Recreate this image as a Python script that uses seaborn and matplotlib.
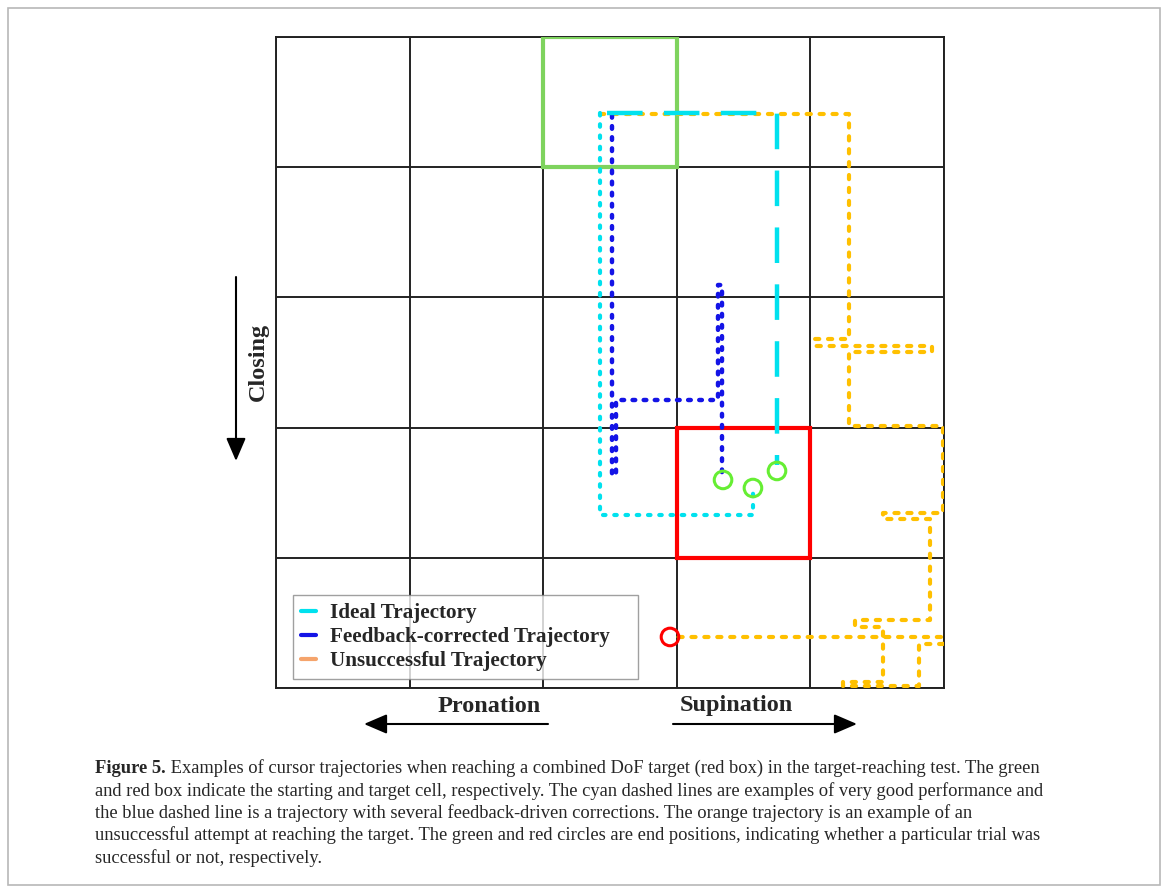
import matplotlib
matplotlib.use("Agg")
import matplotlib.pyplot as plt
from matplotlib.lines import Line2D
from matplotlib.patches import Rectangle, FancyArrowPatch
import seaborn as sns
import pandas as pd

# ---------------- data (grid-cell units; x to the right, y downward from top) ----------------
ideal_dotted_x = [2.425, 2.425, 3.570, 3.570]
ideal_dotted_y = [0.584, 3.671, 3.671, 3.464]

ideal_dashed_x = [2.478, 3.750, 3.750]
ideal_dashed_y = [0.584, 0.584, 3.287]

feedback_x = [2.515, 2.515, 2.545, 2.545, 3.308, 3.308, 3.338, 3.338]
feedback_y = [0.600, 3.364, 3.364, 2.788, 2.788, 1.905, 1.905, 3.387]

unsucc_x = [2.425, 4.289, 4.289, 4.034, 4.034, 4.910, 4.910, 4.289, 4.289, 4.993, 4.993,
            4.543, 4.543, 4.895, 4.895, 4.334, 4.334, 4.543, 4.543, 4.244, 4.244, 4.813,
            4.813, 4.993, 4.993, 2.949]
unsucc_y = [0.591, 0.591, 2.320, 2.320, 2.373, 2.373, 2.419, 2.419, 2.988, 2.988, 3.656,
            3.656, 3.702, 3.702, 4.478, 4.478, 4.531, 4.531, 4.954, 4.954, 4.985, 4.985,
            4.662, 4.662, 4.608, 4.608]

success_end_x = [3.346, 3.570, 3.750]
success_end_y = [3.402, 3.464, 3.333]
fail_end_x = [2.949]
fail_end_y = [4.608]

start_cell = (2, 0)   # column, row (from top)
target_cell = (3, 3)
n_cells = 5

legend_labels = ["Ideal Trajectory", "Feedback-corrected Trajectory", "Unsuccessful Trajectory"]
xlabel_left, xlabel_right, ylabel = "Pronation", "Supination", "Closing"
caption_bold = "Figure 5."
caption_lines = [
    " Examples of cursor trajectories when reaching a combined DoF target (red box) in the target-reaching test. The green",
    "and red box indicate the starting and target cell, respectively. The cyan dashed lines are examples of very good performance and",
    "the blue dashed line is a trajectory with several feedback-driven corrections. The orange trajectory is an example of an",
    "unsuccessful attempt at reaching the target. The green and red circles are end positions, indicating whether a particular trial was",
    "successful or not, respectively.",
]

# ---------------- style ----------------
CYAN = "#00e1ee"
BLUE = "#1414e6"
ORANGE = "#ffc000"
LEG_ORANGE = "#f5a46c"
GREEN_BOX = "#7ed35e"
GREEN_C = "#66ee33"
RED = "#ff0000"
GRID = "#222222"

sns.set_theme(style="white")
plt.rcParams["font.family"] = ["Liberation Serif", "DejaVu Serif"]

W, H = 1169, 894
fig = plt.figure(figsize=(W / 100, H / 100), dpi=100)

def fx(px):
    return px / W

def fy(py):
    return 1 - py / H

ax_l, ax_r, ax_t, ax_b = 276, 944, 37, 688
ax = fig.add_axes([fx(ax_l), fy(ax_b), fx(ax_r) - fx(ax_l), fy(ax_t) - fy(ax_b)])
ax.set_xlim(0, n_cells)
ax.set_ylim(n_cells, 0)
ax.set_xticks(range(n_cells + 1))
ax.set_yticks(range(n_cells + 1))
ax.tick_params(length=0, labelbottom=False, labelleft=False)
ax.grid(True, color=GRID, lw=1.4)
for s in ax.spines.values():
    s.set_color(GRID)
    s.set_linewidth(1.4)

# boxes
ax.add_patch(Rectangle(start_cell, 1, 1, fill=False, ec=GREEN_BOX, lw=3.0, zorder=3))
ax.add_patch(Rectangle(target_cell, 1, 1, fill=False, ec=RED, lw=3.0, zorder=3))

def traj(x, y, color, ls, lw=3.0, cap="round"):
    df = pd.DataFrame({"x": x, "y": y})
    sns.lineplot(data=df, x="x", y="y", sort=False, estimator=None, ax=ax, color=color,
                 lw=lw, linestyle=ls, dash_capstyle=cap, zorder=4, legend=False)

traj(unsucc_x, unsucc_y, ORANGE, (0, (1.0, 2.1)))
traj(ideal_dotted_x, ideal_dotted_y, CYAN, (0, (0.6, 2.1)))
traj(feedback_x, feedback_y, BLUE, (0, (0.6, 1.9)), lw=3.2)
traj(ideal_dashed_x, ideal_dashed_y, CYAN, (0, (8.0, 4.8)), lw=3.2, cap="butt")

# end markers
sns.scatterplot(x=success_end_x, y=success_end_y, ax=ax, s=160, facecolor="none",
                edgecolor=GREEN_C, linewidth=2.2, zorder=6, legend=False)
sns.scatterplot(x=fail_end_x, y=fail_end_y, ax=ax, s=160, facecolor="none",
                edgecolor=RED, linewidth=2.2, zorder=6, legend=False)
ax.set_xlabel("")
ax.set_ylabel("")

# legend (box spans the reference extent)
ax_w, ax_h = ax_r - ax_l, ax_b - ax_t
lx0, lx1, ly0, ly1 = 293, 638, 596, 679
handles = [Line2D([], [], color=c, lw=3) for c in (CYAN, BLUE, LEG_ORANGE)]
leg = ax.legend(handles, legend_labels, loc="lower left", mode="expand",
                bbox_to_anchor=((lx0 - ax_l) / ax_w, (ax_b - ly1) / ax_h,
                                (lx1 - lx0) / ax_w, (ly1 - ly0) / ax_h),
                prop={"family": ["Liberation Serif"], "weight": "bold", "size": 15.2},
                handlelength=0.7, handletextpad=0.65, borderpad=0.38, labelspacing=0.18,
                fancybox=False, frameon=True, borderaxespad=0)
leg.get_frame().set_edgecolor("#888888")
leg.get_frame().set_linewidth(1.0)
leg.set_zorder(10)

# axis labels & arrows
lab = dict(family=["Liberation Serif"], weight="bold", fontsize=17.5)
fig.text(fx(489), fy(706), xlabel_left, ha="center", va="center", **lab)
fig.text(fx(736), fy(706), xlabel_right, ha="center", va="center", **lab)
fig.text(fx(258), fy(362), ylabel, ha="center", va="center", rotation=90, **lab)

arrow = dict(arrowstyle="-|>,head_length=1.4,head_width=0.6", color="black", lw=1.5,
             shrinkA=0, shrinkB=0, mutation_scale=10, transform=fig.transFigure)
fig.add_artist(FancyArrowPatch((fx(548), fy(724)), (fx(364), fy(724)), **arrow))
fig.add_artist(FancyArrowPatch((fx(673), fy(724)), (fx(857), fy(724)), **arrow))
fig.add_artist(FancyArrowPatch((fx(236), fy(277)), (fx(236), fy(461)), **arrow))

# border
fig.add_artist(Rectangle((fx(8), fy(885)), fx(1160) - fx(8), fy(8) - fy(885),
                         transform=fig.transFigure, fill=False, ec="#b8b8b8", lw=1.2))

# caption
renderer = fig.canvas.get_renderer()
cap_size = 13.3
x0 = fx(95)
base0 = 773
step = 22.5
tb = fig.text(x0, fy(base0), caption_bold, ha="left", va="baseline",
              family=["Liberation Serif"], weight="bold", fontsize=cap_size)
bb = tb.get_window_extent(renderer)
fig.text(bb.x1 / W, fy(base0), caption_lines[0], ha="left", va="baseline",
         family=["Liberation Serif"], fontsize=cap_size)
for i, line in enumerate(caption_lines[1:], start=1):
    fig.text(x0, fy(base0 + i * step), line, ha="left", va="baseline",
             family=["Liberation Serif"], fontsize=cap_size)

fig.savefig("out.png", dpi=100)
